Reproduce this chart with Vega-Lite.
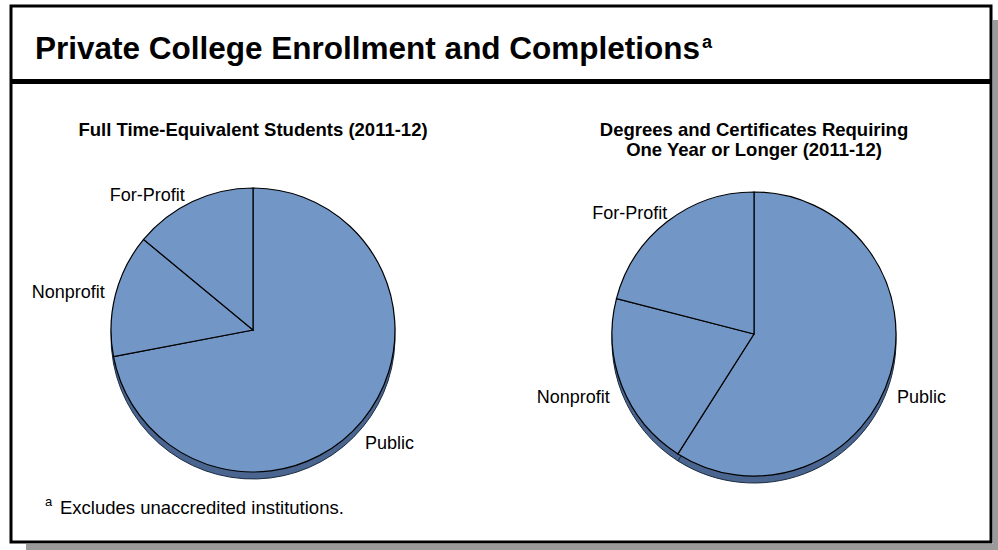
{
  "$schema": "https://vega.github.io/schema/vega-lite/v6.json",
  "width": 980,
  "height": 536,
  "autosize": {"type": "none"},
  "padding": {"left": 11, "top": 6, "right": 7, "bottom": 8},
  "background": "white",
  "config": {
    "font": "Liberation Sans",
    "view": {"stroke": "black", "strokeWidth": 3, "fill": "white"}
  },
  "datasets": {
    "shares": [
      {"panel": "FTE", "label": "Public", "share": 72, "order": 1},
      {"panel": "FTE", "label": "Nonprofit", "share": 14, "order": 2},
      {"panel": "FTE", "label": "For-Profit", "share": 14, "order": 3},
      {"panel": "Degrees", "label": "Public", "share": 59, "order": 1},
      {"panel": "Degrees", "label": "Nonprofit", "share": 20, "order": 2},
      {"panel": "Degrees", "label": "For-Profit", "share": 21, "order": 3}
    ],
    "subtitles": [
      {"panel": "FTE", "title": ["Full Time-Equivalent Students (2011-12)"]},
      {"panel": "Degrees", "title": ["Degrees and Certificates Requiring", "One Year or Longer (2011-12)"]}
    ]
  },
  "layer": [
    {
      "data": {"values": [{}]},
      "mark": {"type": "rect", "fill": "#9a9a9a"},
      "encoding": {
        "x": {"value": 982},
        "x2": {"value": 987},
        "y": {"value": 14},
        "y2": {"value": 544}
      }
    },
    {
      "data": {"values": [{}]},
      "mark": {"type": "rect", "fill": "#9a9a9a"},
      "encoding": {
        "x": {"value": 15},
        "x2": {"value": 987},
        "y": {"value": 538},
        "y2": {"value": 544}
      }
    },
    {
      "data": {"values": [{}]},
      "mark": {"type": "rect", "fill": "black"},
      "encoding": {
        "x": {"value": 0},
        "x2": {"value": 980},
        "y": {"value": 73},
        "y2": {"value": 78}
      }
    },
    {
      "data": {"values": [{"t": "Private College Enrollment and Completions"}]},
      "mark": {"type": "text", "fontSize": 31.5, "fontWeight": "bold", "align": "left", "baseline": "alphabetic", "color": "black"},
      "encoding": {"text": {"field": "t"}, "x": {"value": 24}, "y": {"value": 53}}
    },
    {
      "data": {"values": [{"t": "a"}]},
      "mark": {"type": "text", "fontSize": 18, "fontWeight": "bold", "align": "left", "baseline": "alphabetic", "color": "black"},
      "encoding": {"text": {"field": "t"}, "x": {"value": 691}, "y": {"value": 42}}
    },
    {
      "data": {"name": "subtitles"},
      "mark": {"type": "text", "fontSize": 18.5, "fontWeight": "bold", "align": "center", "baseline": "alphabetic", "lineHeight": 20, "color": "black"},
      "encoding": {
        "text": {"field": "title"},
        "x": {"field": "panel", "type": "nominal", "scale": {"type": "point", "domain": ["FTE", "Degrees"], "range": [242, 743], "padding": 0}, "axis": null},
        "y": {"value": 130}
      }
    },
    {
      "data": {"name": "shares"},
      "transform": [{"filter": "datum.panel === 'FTE'"}],
      "encoding": {
        "x": {"field": "panel", "type": "nominal", "scale": {"type": "point", "domain": ["FTE", "Degrees"], "range": [242, 743], "padding": 0}, "axis": null},
        "y": {"field": "panel", "type": "nominal", "scale": {"type": "point", "domain": ["FTE", "Degrees"], "range": [324, 328], "padding": 0}, "axis": null},
        "theta": {"field": "share", "type": "quantitative", "stack": true, "scale": {"domain": [0, 100]}},
        "order": {"field": "order", "type": "quantitative"},
        "detail": {"field": "label"}
      },
      "layer": [
        {"mark": {"type": "arc", "outerRadius": 142, "fill": "#4a6690", "stroke": "#1a2a40", "strokeWidth": 1, "yOffset": 7}},
        {"mark": {"type": "arc", "outerRadius": 142, "fill": "#7297c6", "stroke": "black", "strokeWidth": 1.2}},
        {
          "mark": {
            "type": "text", "fontSize": 18, "baseline": "middle", "color": "black",
            "align": {"expr": "datum.label === 'Public' ? 'left' : 'right'"},
            "dx": {"expr": "datum.label === 'Public' ? -6 : (datum.label === 'For-Profit' ? -3 : 0)"},
            "dy": {"expr": "datum.label === 'Public' ? 16 : (datum.label === 'For-Profit' ? 4 : 1)"}
          },
          "encoding": {"text": {"field": "label"}, "radius": {"value": 153}}
        }
      ]
    },
    {
      "data": {"name": "shares"},
      "transform": [{"filter": "datum.panel === 'Degrees'"}],
      "encoding": {
        "x": {"field": "panel", "type": "nominal", "scale": {"type": "point", "domain": ["FTE", "Degrees"], "range": [242, 743], "padding": 0}, "axis": null},
        "y": {"field": "panel", "type": "nominal", "scale": {"type": "point", "domain": ["FTE", "Degrees"], "range": [324, 328], "padding": 0}, "axis": null},
        "theta": {"field": "share", "type": "quantitative", "stack": true, "scale": {"domain": [0, 100]}},
        "order": {"field": "order", "type": "quantitative"},
        "detail": {"field": "label"}
      },
      "layer": [
        {"mark": {"type": "arc", "outerRadius": 142, "fill": "#4a6690", "stroke": "#1a2a40", "strokeWidth": 1, "yOffset": 7}},
        {"mark": {"type": "arc", "outerRadius": 142, "fill": "#7297c6", "stroke": "black", "strokeWidth": 1.2}},
        {
          "mark": {
            "type": "text", "fontSize": 18, "baseline": "middle", "color": "black",
            "align": {"expr": "datum.label === 'Public' ? 'left' : 'right'"},
            "dx": {"expr": "datum.label === 'Public' ? -4 : (datum.label === 'For-Profit' ? 7 : -2)"},
            "dy": {"expr": "datum.label === 'Public' ? 21 : (datum.label === 'Nonprofit' ? 8 : 1)"}
          },
          "encoding": {"text": {"field": "label"}, "radius": {"value": 153}}
        }
      ]
    },
    {
      "data": {"values": [{"t": "a"}]},
      "mark": {"type": "text", "fontSize": 13, "align": "left", "baseline": "alphabetic", "color": "black"},
      "encoding": {"text": {"field": "t"}, "x": {"value": 34}, "y": {"value": 500}}
    },
    {
      "data": {"values": [{"t": "Excludes unaccredited institutions."}]},
      "mark": {"type": "text", "fontSize": 18.5, "align": "left", "baseline": "alphabetic", "color": "black"},
      "encoding": {"text": {"field": "t"}, "x": {"value": 49}, "y": {"value": 508}}
    }
  ]
}
